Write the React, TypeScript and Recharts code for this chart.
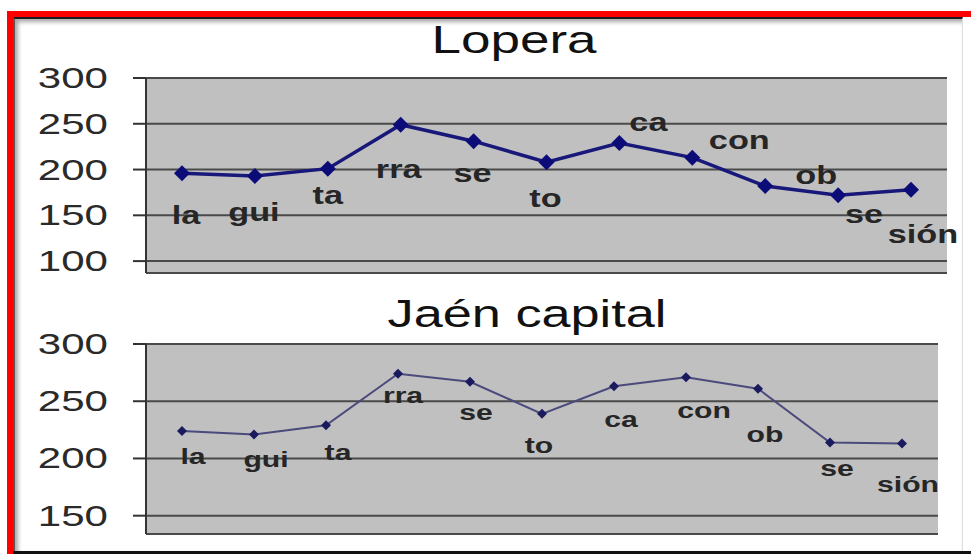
import { LineChart, Line, XAxis, YAxis, CartesianGrid, LabelList } from "recharts";

const SYLLABLES = ["la", "gui", "ta", "rra", "se", "to", "ca", "con", "ob", "se", "sión"];
const LOPERA = [196, 193, 201, 249, 231, 208, 229, 213, 182, 172, 178];
const JAEN = [224, 221, 229, 274, 267, 239, 263, 271, 261, 214, 213];
const LOPERA_TICKS = [100, 150, 200, 250, 300];
const JAEN_TICKS = [150, 200, 250, 300];

// where each syllable sits relative to its point (dx, dy to the baseline)
const LOPERA_LABEL_POS = [[4, 51], [-1, 45], [0, 35], [-2, 53], [-1, 41], [-1, 45], [29, -12], [47, -9], [51, -2], [26, 28], [12, 53]];
const JAEN_LABEL_POS = [[11, 33], [12, 33], [12, 35], [5, 29], [6, 38], [-3, 39], [7, 41], [18, 41], [7, 53], [7, 34], [6, 48]];

const FONT = "'Liberation Sans', Arial, sans-serif";
const W = 971;
const H = 554;

const diamond = (r: number, fill: string) => (props: any) => {
  const { cx, cy, index } = props;
  if (cx == null || cy == null) return <g key={index} />;
  return (
    <polygon
      key={index}
      points={`${cx},${cy - r} ${cx + r},${cy} ${cx},${cy + r} ${cx - r},${cy}`}
      fill={fill}
    />
  );
};

const YTick = (props: any) => {
  const { x, y, payload } = props;
  return (
    <text
      transform={`translate(${x},${y + 10}) scale(1.45,1)`}
      textAnchor="end"
      fontFamily={FONT}
      fontSize={29}
      fill="#2a2a2a"
    >
      {payload.value}
    </text>
  );
};

interface PanelProps {
  values: number[];
  ticks: number[];
  domain: [number, number];
  top: number;
  bottom: number;
  right: number;
  labelPos: number[][];
  labelSize: number;
  stroke: string;
  strokeWidth: number;
  dotR: number;
  dotFill: string;
}

function Panel({ values, ticks, domain, top, bottom, right, labelPos, labelSize, stroke, strokeWidth, dotR, dotFill }: PanelProps) {
  const data = SYLLABLES.map((s, i) => ({ key: String(i), syl: s, value: values[i] }));

  const renderLabel = (props: any) => {
    const { x, y, index } = props;
    const [dx, dy] = labelPos[index];
    return (
      <text
        key={index}
        transform={`translate(${x + dx},${y + dy}) scale(1.37,1)`}
        textAnchor="middle"
        fontFamily={FONT}
        fontWeight="bold"
        fontSize={labelSize}
        fill="#262626"
      >
        {SYLLABLES[index]}
      </text>
    );
  };

  return (
    <div style={{ position: "absolute", left: 0, top: 0 }}>
      <LineChart width={W} height={H} data={data} margin={{ top, right, bottom, left: 0 }}>
        <CartesianGrid vertical={false} fill="#c0c0c0" stroke="#4a4a4a" strokeWidth={2} />
        <XAxis dataKey="key" hide padding={{ left: 36, right: 36 }} />
        <YAxis
          domain={domain}
          ticks={ticks}
          width={146}
          tickSize={13}
          tickMargin={25}
          tick={<YTick />}
          axisLine={{ stroke: "#333", strokeWidth: 2 }}
          tickLine={{ stroke: "#333", strokeWidth: 2 }}
          allowDataOverflow
        />
        <YAxis
          yAxisId="edge"
          orientation="right"
          width={0}
          tick={false}
          tickLine={false}
          axisLine={{ stroke: "#8a8a8a", strokeWidth: 2 }}
        />
        <Line
          dataKey="value"
          stroke={stroke}
          strokeWidth={strokeWidth}
          dot={diamond(dotR, dotFill)}
          activeDot={false}
          isAnimationActive={false}
        >
          <LabelList dataKey="syl" content={renderLabel} />
        </Line>
      </LineChart>
    </div>
  );
}

export default function App() {
  return (
    <div style={{ position: "absolute", left: 0, top: 0, width: W, height: H, background: "#fff", overflow: "hidden", fontFamily: FONT }}>
      <div style={{ position: "absolute", left: 7, top: 11, width: 980, height: 560, borderTop: "6px solid #ff0000", borderLeft: "6px solid #ff0000", boxSizing: "border-box" }} />
      <div
        style={{
          position: "absolute",
          left: 13,
          top: 17,
          width: 950,
          height: 534,
          borderTop: "2px solid #1a1a1a",
          borderLeft: "2px solid #555",
          borderRight: "1px solid #ddd",
          boxShadow: "inset 3px 3px 4px rgba(0,0,0,0.35)",
          boxSizing: "border-box",
        }}
      />
      <div style={{ position: "absolute", left: 13, top: 551, width: 960, height: 3, background: "#111" }} />
      <Panel
        values={LOPERA}
        ticks={LOPERA_TICKS}
        domain={[87, 300]}
        top={78}
        bottom={H - 273}
        right={W - 947}
        labelPos={LOPERA_LABEL_POS}
        labelSize={25}
        stroke="#18187a"
        strokeWidth={3.5}
        dotR={8}
        dotFill="#0c0c78"
      />
      <Panel
        values={JAEN}
        ticks={JAEN_TICKS}
        domain={[134, 300]}
        top={344}
        bottom={H - 534}
        right={W - 938}
        labelPos={JAEN_LABEL_POS}
        labelSize={22}
        stroke="#4a4a7c"
        strokeWidth={2}
        dotR={5}
        dotFill="#1a1a5e"
      />
      <svg width={W} height={H} style={{ position: "absolute", left: 0, top: 0, pointerEvents: "none" }}>
        <text transform="translate(514,53) scale(1.36,1)" textAnchor="middle" fontFamily={FONT} fontSize={39} fill="#111">
          Lopera
        </text>
        <text transform="translate(527,327) scale(1.34,1)" textAnchor="middle" fontFamily={FONT} fontSize={39} fill="#111">
          Jaén capital
        </text>
      </svg>
    </div>
  );
}
